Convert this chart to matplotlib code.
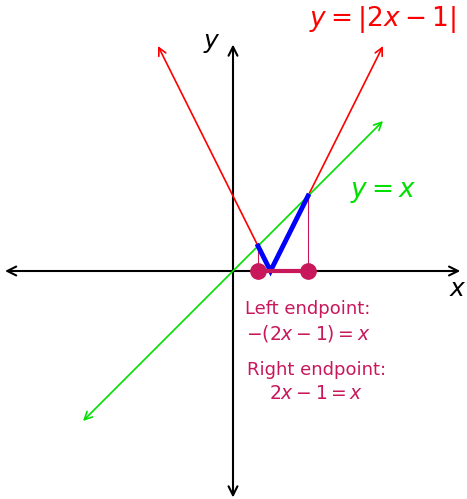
import numpy as np
import matplotlib.pyplot as plt

plt.rcParams['mathtext.fontset'] = 'dejavusans'
plt.rcParams['font.family'] = 'DejaVu Sans'

# y = |2x - 1| drawn from x=-1 to x=2
red_x = [-1, 0.5, 2]
red_y = [3, 0, 3]
# y = x from -2 to 2
green_x = [-2, 2]
green_y = [-2, 2]
# part of |2x-1| between the two endpoints
blue_x = [1/3, 1/2, 1]
blue_y = [1/3, 0, 1]
# solutions of |2x-1| = x
end_x = [1/3, 1]
end_y = [1/3, 1]

crimson = '#c8175a'

fig = plt.figure(figsize=(4.67, 4.99), dpi=100)
ax = fig.add_axes([0, 0, 1, 1])
ax.set_xlim(-233/75, 234/75)
ax.set_ylim(-228/75, 271/75)
ax.axis('off')

# axes with arrows at both ends
ax.annotate('', xy=(3.03, 0), xytext=(-3.04, 0), zorder=1,
            arrowprops=dict(arrowstyle='<->', color='black', lw=1.5,
                            shrinkA=0, shrinkB=0, mutation_scale=16))
ax.annotate('', xy=(0, 3.02), xytext=(0, -3.02), zorder=1,
            arrowprops=dict(arrowstyle='<->', color='black', lw=1.5,
                            shrinkA=0, shrinkB=0, mutation_scale=16))

# red V
for i in (0, 2):
    ax.annotate('', xy=(red_x[i], red_y[i]), xytext=(red_x[1], red_y[1]),
                zorder=2,
                arrowprops=dict(arrowstyle='->', color='red', lw=1.2,
                                shrinkA=0, shrinkB=0, mutation_scale=14))
# green line
ax.annotate('', xy=(green_x[1], green_y[1]), xytext=(green_x[0], green_y[0]),
            zorder=2,
            arrowprops=dict(arrowstyle='<->', color='#00e000', lw=1.2,
                            shrinkA=0, shrinkB=0, mutation_scale=14))

# thin verticals at the endpoints
for xe, ye in zip(end_x, end_y):
    ax.plot([xe, xe], [0, ye], color=crimson, lw=0.8, zorder=3)

ax.plot(blue_x, blue_y, color='blue', lw=3.5, solid_joinstyle='miter', zorder=4)
ax.plot(end_x, [0, 0], color=crimson, lw=3, solid_capstyle='butt', zorder=5)
ax.plot(end_x, [0, 0], 'o', color=crimson, markersize=11, zorder=6)

ax.text(1.99, 3.35, r'$y = |2x - 1|$', color='red', fontsize=19,
        ha='center', va='center')
ax.text(2.0, 1.05, r'$y = x$', color='#00e000', fontsize=19,
        ha='center', va='center')
ax.text(3.0, -0.24, r'$x$', fontsize=18, ha='center', va='center')
ax.text(-0.28, 3.04, r'$y$', fontsize=18, ha='center', va='center')

ax.text(1.0, -0.5, 'Left endpoint:', color=crimson, fontsize=13,
        ha='center', va='center')
ax.text(1.0, -0.84, r'$-(2x - 1) = x$', color=crimson, fontsize=13.5,
        ha='center', va='center')
ax.text(1.11, -1.32, 'Right endpoint:', color=crimson, fontsize=13,
        ha='center', va='center')
ax.text(1.11, -1.63, r'$2x - 1 = x$', color=crimson, fontsize=13.5,
        ha='center', va='center')

fig.savefig('out.png', dpi=100)
